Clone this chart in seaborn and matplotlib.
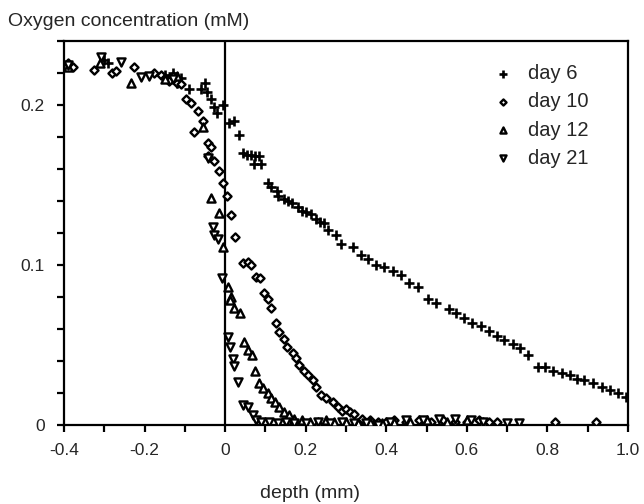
import matplotlib
matplotlib.use("Agg")
import matplotlib.pyplot as plt
from matplotlib.ticker import MultipleLocator, FixedLocator
import seaborn as sns
import pandas as pd

# oxygen profiles (depth in mm, O2 in mM)
day6_depth = [-0.30, -0.29, -0.15, -0.14, -0.13, -0.12, -0.11, -0.09, -0.06, -0.05,
              -0.045, -0.035, -0.027, -0.02, -0.005, 0.01, 0.022, 0.035, 0.045, 0.055,
              0.065, 0.075, 0.085, 0.072, 0.09, 0.107, 0.115, 0.128, 0.131, 0.146,
              0.155, 0.165, 0.18, 0.19, 0.20, 0.213, 0.225, 0.235, 0.245, 0.255,
              0.275, 0.287, 0.317, 0.337, 0.354, 0.374, 0.394, 0.416, 0.436, 0.456,
              0.478, 0.503, 0.523, 0.555, 0.572, 0.592, 0.614, 0.634, 0.654, 0.674,
              0.691, 0.714, 0.733, 0.753, 0.776, 0.795, 0.815, 0.837, 0.855, 0.874,
              0.89, 0.914, 0.936, 0.956, 0.976, 0.994]
day6_o2 = [0.228, 0.226, 0.219, 0.216, 0.220, 0.214, 0.217, 0.210, 0.210, 0.214,
           0.208, 0.204, 0.199, 0.195, 0.200, 0.189, 0.190, 0.181, 0.170, 0.169,
           0.169, 0.168, 0.168, 0.163, 0.163, 0.151, 0.149, 0.146, 0.143, 0.141,
           0.140, 0.139, 0.136, 0.134, 0.133, 0.132, 0.129, 0.127, 0.126, 0.122,
           0.119, 0.113, 0.111, 0.106, 0.104, 0.100, 0.099, 0.096, 0.094, 0.089,
           0.086, 0.079, 0.076, 0.0725, 0.070, 0.067, 0.064, 0.062, 0.059, 0.0556,
           0.053, 0.0506, 0.048, 0.044, 0.036, 0.036, 0.034, 0.0325, 0.031, 0.029,
           0.028, 0.026, 0.024, 0.022, 0.020, 0.0175]

day10_depth = [-0.39, -0.377, -0.325, -0.28, -0.27, -0.226, -0.176, -0.16, -0.15, -0.14,
               -0.13, -0.12, -0.11, -0.097, -0.084, -0.067, -0.055, -0.077, -0.042, -0.035,
               -0.042, -0.027, -0.015, -0.005, 0.005, 0.015, 0.025, 0.045, 0.057, 0.064,
               0.077, 0.087, 0.097, 0.106, 0.114, 0.126, 0.134, 0.146, 0.154, 0.168,
               0.176, 0.184, 0.196, 0.205, 0.218, 0.225, 0.238, 0.25, 0.267, 0.28,
               0.29, 0.30, 0.31, 0.32, 0.34, 0.36, 0.38, 0.40, 0.42, 0.45,
               0.48, 0.51, 0.54, 0.57, 0.60, 0.63, 0.655, 0.675, 0.82, 0.92]
day10_o2 = [0.226, 0.224, 0.222, 0.220, 0.221, 0.224, 0.220, 0.219, 0.217, 0.215,
            0.218, 0.214, 0.213, 0.204, 0.201, 0.196, 0.190, 0.183, 0.176, 0.174,
            0.168, 0.165, 0.159, 0.151, 0.143, 0.131, 0.1175, 0.101, 0.102, 0.100,
            0.0925, 0.092, 0.0825, 0.079, 0.073, 0.064, 0.058, 0.054, 0.049, 0.045,
            0.042, 0.0375, 0.034, 0.031, 0.028, 0.024, 0.019, 0.017, 0.0145, 0.011,
            0.009, 0.010, 0.008, 0.007, 0.004, 0.003, 0.002, 0.002, 0.003, 0.002,
            0.003, 0.002, 0.003, 0.002, 0.002, 0.003, 0.002, 0.002, 0.002, 0.002]

day12_depth = [-0.39, -0.31, -0.233, -0.15, -0.12, -0.055, -0.035, -0.015, -0.005, 0.007,
               0.015, 0.012, 0.022, 0.037, 0.047, 0.057, 0.067, 0.074, 0.084, 0.094,
               0.106, 0.114, 0.124, 0.134, 0.146, 0.159, 0.17, 0.19, 0.21, 0.23,
               0.25, 0.27, 0.30, 0.33, 0.36, 0.39, 0.42, 0.46, 0.50, 0.55,
               0.60, 0.64]
day12_o2 = [0.224, 0.226, 0.214, 0.216, 0.218, 0.186, 0.142, 0.1325, 0.111, 0.086,
            0.080, 0.078, 0.073, 0.070, 0.052, 0.047, 0.044, 0.034, 0.026, 0.023,
            0.020, 0.017, 0.0145, 0.011, 0.008, 0.006, 0.004, 0.003, 0.002, 0.002,
            0.003, 0.002, 0.002, 0.001, 0.002, 0.001, 0.002, 0.002, 0.003, 0.002,
            0.003, 0.002]

day21_depth = [-0.39, -0.307, -0.258, -0.208, -0.19, -0.13, -0.042, -0.03, -0.027, -0.017,
               -0.007, 0.007, 0.012, 0.02, 0.022, 0.032, 0.045, 0.057, 0.069, 0.077,
               0.09, 0.11, 0.13, 0.15, 0.17, 0.20, 0.23, 0.26, 0.29, 0.32,
               0.35, 0.38, 0.41, 0.45, 0.49, 0.53, 0.57, 0.61, 0.64, 0.70,
               0.73]
day21_o2 = [0.225, 0.230, 0.227, 0.2175, 0.218, 0.216, 0.167, 0.124, 0.119, 0.116,
            0.092, 0.055, 0.049, 0.041, 0.037, 0.027, 0.0125, 0.011, 0.006, 0.003,
            0.002, 0.002, 0.001, 0.002, 0.001, 0.001, 0.002, 0.001, 0.002, 0.001,
            0.001, 0.0, 0.002, 0.003, 0.003, 0.004, 0.004, 0.003, 0.002, 0.001,
            0.001]

x_ticks = [-0.4, -0.2, 0, 0.2, 0.4, 0.6, 0.8, 1.0]
x_tick_labels = ["-0.4", "-0.2", "0", "0.2", "0.4", "0.6", "0.8", "1.0"]
y_ticks = [0, 0.1, 0.2]
y_tick_labels = ["0", "0.1", "0.2"]

sns.set_style("ticks")
plt.rcParams["font.family"] = ["Liberation Sans", "DejaVu Sans"]

series = [
    ("day 6", day6_depth, day6_o2, "+"),
    ("day 10", day10_depth, day10_o2, "D"),
    ("day 12", day12_depth, day12_o2, "^"),
    ("day 21", day21_depth, day21_o2, "v"),
]

fig = plt.figure(figsize=(6.44, 5.04), dpi=100)
ax = fig.add_axes([64 / 644, 1 - 425 / 504, 564 / 644, 384 / 504])

for label, xs, ys, mk in series:
    df = pd.DataFrame({"depth": xs, "o2": ys})
    if mk == "+":
        sns.scatterplot(data=df, x="depth", y="o2", marker="+", color="black",
                        s=48, linewidth=1.9, ax=ax, label=label, zorder=3)
    else:
        size = 17 if mk == "D" else 34
        sns.scatterplot(data=df, x="depth", y="o2", marker=mk, color="white",
                        edgecolor="black", s=size, linewidth=1.7, ax=ax,
                        label=label, zorder=3)

ax.axvline(0, color="black", lw=1.6, zorder=2)

ax.set_xlim(-0.4, 1.0)
ax.set_ylim(0, 0.24)
ax.xaxis.set_major_locator(FixedLocator(x_ticks))
ax.set_xticklabels(x_tick_labels)
ax.xaxis.set_minor_locator(MultipleLocator(0.1))
ax.yaxis.set_major_locator(FixedLocator(y_ticks))
ax.set_yticklabels(y_tick_labels)
ax.yaxis.set_minor_locator(MultipleLocator(0.02))
ax.tick_params(which="both", direction="out", length=5, width=1.6,
               labelsize=12.5, color="black")
ax.tick_params(axis="x", pad=8)
ax.tick_params(axis="y", pad=9)
for sp in ax.spines.values():
    sp.set_visible(True)
    sp.set_linewidth(1.6)
    sp.set_color("black")

ax.set_xlabel("")
ax.set_ylabel("")

leg = ax.legend(loc="upper right", bbox_to_anchor=(0.945, 0.96), frameon=False,
                fontsize=14.5, labelspacing=0.45, handletextpad=0.25,
                markerscale=0.75, borderaxespad=0)

fig.text(8 / 644, 1 - 22 / 504, "Oxygen concentration (mM)", fontsize=14,
         ha="left", va="center")
fig.text(310 / 644, 1 - 493 / 504, "depth (mm)", fontsize=14,
         ha="center", va="center")

fig.savefig("out.png", dpi=100)
